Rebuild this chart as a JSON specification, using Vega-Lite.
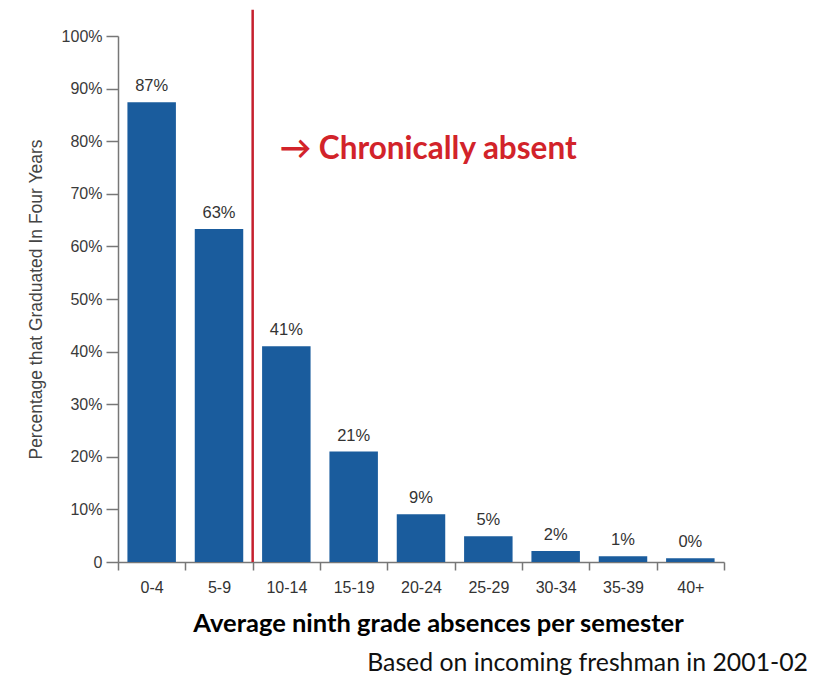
{
  "$schema": "https://vega.github.io/schema/vega-lite/v6.json",
  "width": 606,
  "height": 526,
  "autosize": "none",
  "padding": {"left": 118, "top": 36, "right": 109, "bottom": 115},
  "background": "white",
  "config": {"view": {"stroke": null}},
  "data": {"values": [
    {"absences": "0-4", "pct": 0.874, "label": "87%"},
    {"absences": "5-9", "pct": 0.633, "label": "63%"},
    {"absences": "10-14", "pct": 0.41, "label": "41%"},
    {"absences": "15-19", "pct": 0.21, "label": "21%"},
    {"absences": "20-24", "pct": 0.091, "label": "9%"},
    {"absences": "25-29", "pct": 0.049, "label": "5%"},
    {"absences": "30-34", "pct": 0.021, "label": "2%"},
    {"absences": "35-39", "pct": 0.011, "label": "1%"},
    {"absences": "40+", "pct": 0.007, "label": "0%"}
  ]},
  "layer": [
    {
      "mark": {"type": "bar", "color": "#1a5c9d", "width": {"band": 0.72}},
      "encoding": {
        "x": {
          "field": "absences", "type": "nominal", "sort": null,
          "scale": {"paddingInner": 0, "paddingOuter": 0},
          "axis": {
            "title": "Average ninth grade absences per semester",
            "titleFont": "Lato", "titleFontWeight": "bold", "titleFontSize": 25.5, "titleColor": "#000",
            "titleX": 320, "titleY": 69, "titleBaseline": "alphabetic",
            "labelAngle": 0, "labelFont": "Liberation Sans, Arial, sans-serif",
            "labelFontSize": 16, "labelColor": "#333", "labelPadding": 9,
            "tickBand": "extent", "tickSize": 8, "tickColor": "#777", "domainColor": "#777", "tickWidth": 1.5, "domainWidth": 1.5
          }
        },
        "y": {
          "field": "pct", "type": "quantitative",
          "scale": {"domain": [0, 1]},
          "axis": {
            "values": [0, 0.1, 0.2, 0.3, 0.4, 0.5, 0.6, 0.7, 0.8, 0.9, 1],
            "labelExpr": "datum.value == 0 ? '0' : format(datum.value, '.0%')",
            "title": "Percentage that Graduated In Four Years",
            "titleFont": "Liberation Sans, Arial, sans-serif",
            "titleFontWeight": "normal", "titleFontSize": 17.5, "titleColor": "#444", "titlePadding": 16,
            "labelFont": "Liberation Sans, Arial, sans-serif",
            "labelFontSize": 16, "labelColor": "#3a3a3a", "labelPadding": 4,
            "grid": false, "tickSize": 12, "tickColor": "#777", "domainColor": "#777", "tickWidth": 1.5, "domainWidth": 1.5
          }
        }
      }
    },
    {
      "mark": {"type": "text", "baseline": "bottom", "dy": -8, "font": "Liberation Sans, Arial, sans-serif", "fontSize": 16.5, "color": "#333"},
      "encoding": {
        "x": {"field": "absences", "type": "nominal", "sort": null},
        "y": {"field": "pct", "type": "quantitative"},
        "text": {"field": "label"}
      }
    },
    {
      "data": {"values": [{}]},
      "mark": {"type": "rule", "color": "#c5202e", "strokeWidth": 2.5},
      "encoding": {
        "x": {"datum": "10-14", "bandPosition": 0},
        "y": {"datum": 0},
        "y2": {"datum": 1.05}
      }
    },
    {
      "data": {"values": [{}]},
      "mark": {"type": "text", "align": "left", "baseline": "middle", "dx": 27, "font": "Lato", "fontWeight": "bold", "fontSize": 31.5, "color": "#d2232a"},
      "encoding": {
        "x": {"datum": "10-14", "bandPosition": 0},
        "y": {"datum": 0.783},
        "text": {"value": "→ Chronically absent"}
      }
    },
    {
      "data": {"values": [{}]},
      "mark": {"type": "text", "align": "right", "baseline": "alphabetic", "dx": 84, "font": "Lato", "fontSize": 24.8, "color": "#111"},
      "encoding": {
        "x": {"datum": "40+", "bandPosition": 1},
        "y": {"datum": -0.208},
        "text": {"value": "Based on incoming freshman in 2001-02"}
      }
    }
  ]
}
